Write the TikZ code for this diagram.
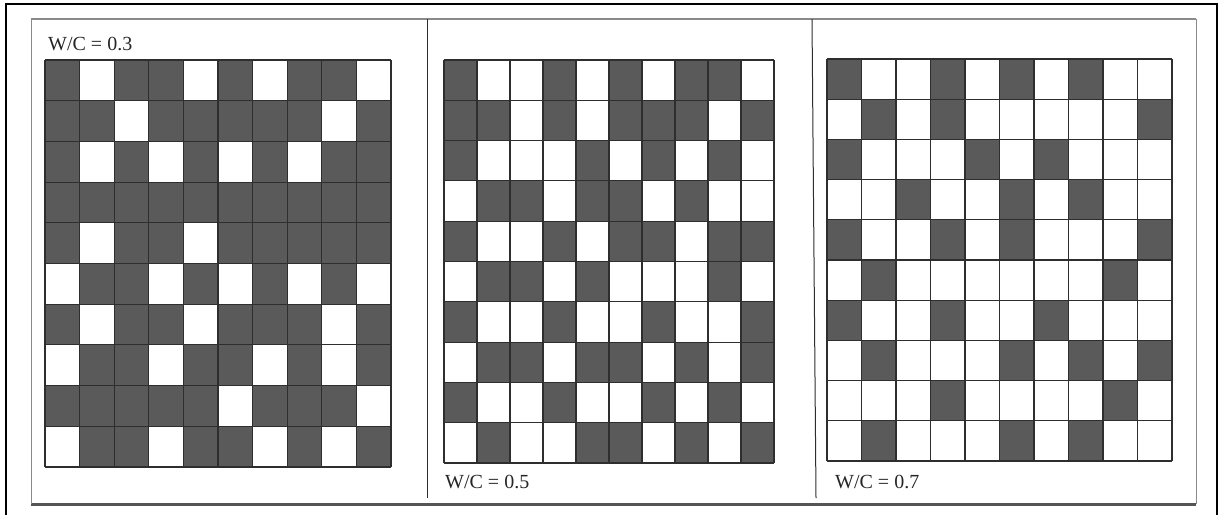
\documentclass[tikz,border=0pt]{standalone}
\usepackage{fontspec}
\setmainfont{Liberation Serif}

\begin{document}
\begin{tikzpicture}[x=1pt, y=-1pt]
    % Define colours
    \definecolor{cellColour}{HTML}{5A5A5A}
    \definecolor{lineColour}{HTML}{2E2E2E}
    \definecolor{frameColour}{HTML}{8A8A8A}
    \definecolor{baseColour}{HTML}{555555}

    \useasboundingbox (0,0) rectangle (1220,515);

    % Draw outer frame (open at the bottom)
    \draw[black, line width=1.3pt] (6,515) -- (6,4) -- (1217,4) -- (1217,515);

    % Draw inner frame and dividers
    \draw[frameColour, line width=2.5pt] (31,19) -- (1196,19);
    \draw[baseColour, line width=3pt] (31,504) -- (1196,504);
    \draw[frameColour, line width=1pt] (31,19) -- (31,504);
    \draw[frameColour, line width=1pt] (1196,19) -- (1196,504);
    \draw[lineColour, line width=1pt] (427,19) -- (427,498);
    \draw[lineColour, line width=1pt] (812,19) -- (816,498);

    % Patterns, row by row from the top (1 = dark cell)
    \def\patternA{{1,0,1,1,0,1,0,1,1,0},{1,1,0,1,1,1,1,1,0,1},{1,0,1,0,1,0,1,0,1,1},{1,1,1,1,1,1,1,1,1,1},{1,0,1,1,0,1,1,1,1,1},{0,1,1,0,1,0,1,0,1,0},{1,0,1,1,0,1,1,1,0,1},{0,1,1,0,1,1,0,1,0,1},{1,1,1,1,1,0,1,1,1,0},{0,1,1,0,1,1,0,1,0,1}}
    \def\patternB{{1,0,0,1,0,1,0,1,1,0},{1,1,0,1,0,1,1,1,0,1},{1,0,0,0,1,0,1,0,1,0},{0,1,1,0,1,1,0,1,0,0},{1,0,0,1,0,1,1,0,1,1},{0,1,1,0,1,0,0,0,1,0},{1,0,0,1,0,0,1,0,0,1},{0,1,1,0,1,1,0,1,0,1},{1,0,0,1,0,0,1,0,1,0},{0,1,0,0,1,1,0,1,0,1}}
    \def\patternC{{1,0,0,1,0,1,0,1,0,0},{0,1,0,1,0,0,0,0,0,1},{1,0,0,0,1,0,1,0,0,0},{0,0,1,0,0,1,0,1,0,0},{1,0,0,1,0,1,0,0,0,1},{0,1,0,0,0,0,0,0,1,0},{1,0,0,1,0,0,1,0,0,0},{0,1,0,0,0,1,0,1,0,1},{0,0,0,1,0,0,0,0,1,0},{0,1,0,0,0,1,0,1,0,0}}

    % Draw grid for W/C = 0.3
    \begin{scope}[shift={(45,60)}, x=34.6pt, y=-40.7pt]
        \foreach \row [count=\r from 0] in \patternA
            \foreach \v [count=\c from 0] in \row
                {\ifnum\v=1 \fill[cellColour] (\c,\r) rectangle ++(1,1);\fi}
        \foreach \i in {0,...,10}
            {\draw[lineColour, line width=1.1pt] (\i,0) -- (\i,10);
             \draw[lineColour, line width=1.1pt] (0,\i) -- (10,\i);}
    \end{scope}

    % Draw grid for W/C = 0.5
    \begin{scope}[shift={(444,60)}, x=33pt, y=-40.3pt]
        \foreach \row [count=\r from 0] in \patternB
            \foreach \v [count=\c from 0] in \row
                {\ifnum\v=1 \fill[cellColour] (\c,\r) rectangle ++(1,1);\fi}
        \foreach \i in {0,...,10}
            {\draw[lineColour, line width=1.1pt] (\i,0) -- (\i,10);
             \draw[lineColour, line width=1.1pt] (0,\i) -- (10,\i);}
    \end{scope}

    % Draw grid for W/C = 0.7
    \begin{scope}[shift={(827,59)}, x=34.5pt, y=-40.2pt]
        \foreach \row [count=\r from 0] in \patternC
            \foreach \v [count=\c from 0] in \row
                {\ifnum\v=1 \fill[cellColour] (\c,\r) rectangle ++(1,1);\fi}
        \foreach \i in {0,...,10}
            {\draw[lineColour, line width=1.1pt] (\i,0) -- (\i,10);
             \draw[lineColour, line width=1.1pt] (0,\i) -- (10,\i);}
    \end{scope}

    % Label the grids
    \tikzset{wcLabel/.style={anchor=base west, inner sep=0pt, text=black!85, font=\fontsize{20}{24}\selectfont}}
    \node[wcLabel] (wcLow) at (48,50) {W/C = 0.3};
    \node[wcLabel] (wcMid) at (445,488) {W/C = 0.5};
    \node[wcLabel] (wcHigh) at (835,488) {W/C = 0.7};

\end{tikzpicture}
\end{document}
